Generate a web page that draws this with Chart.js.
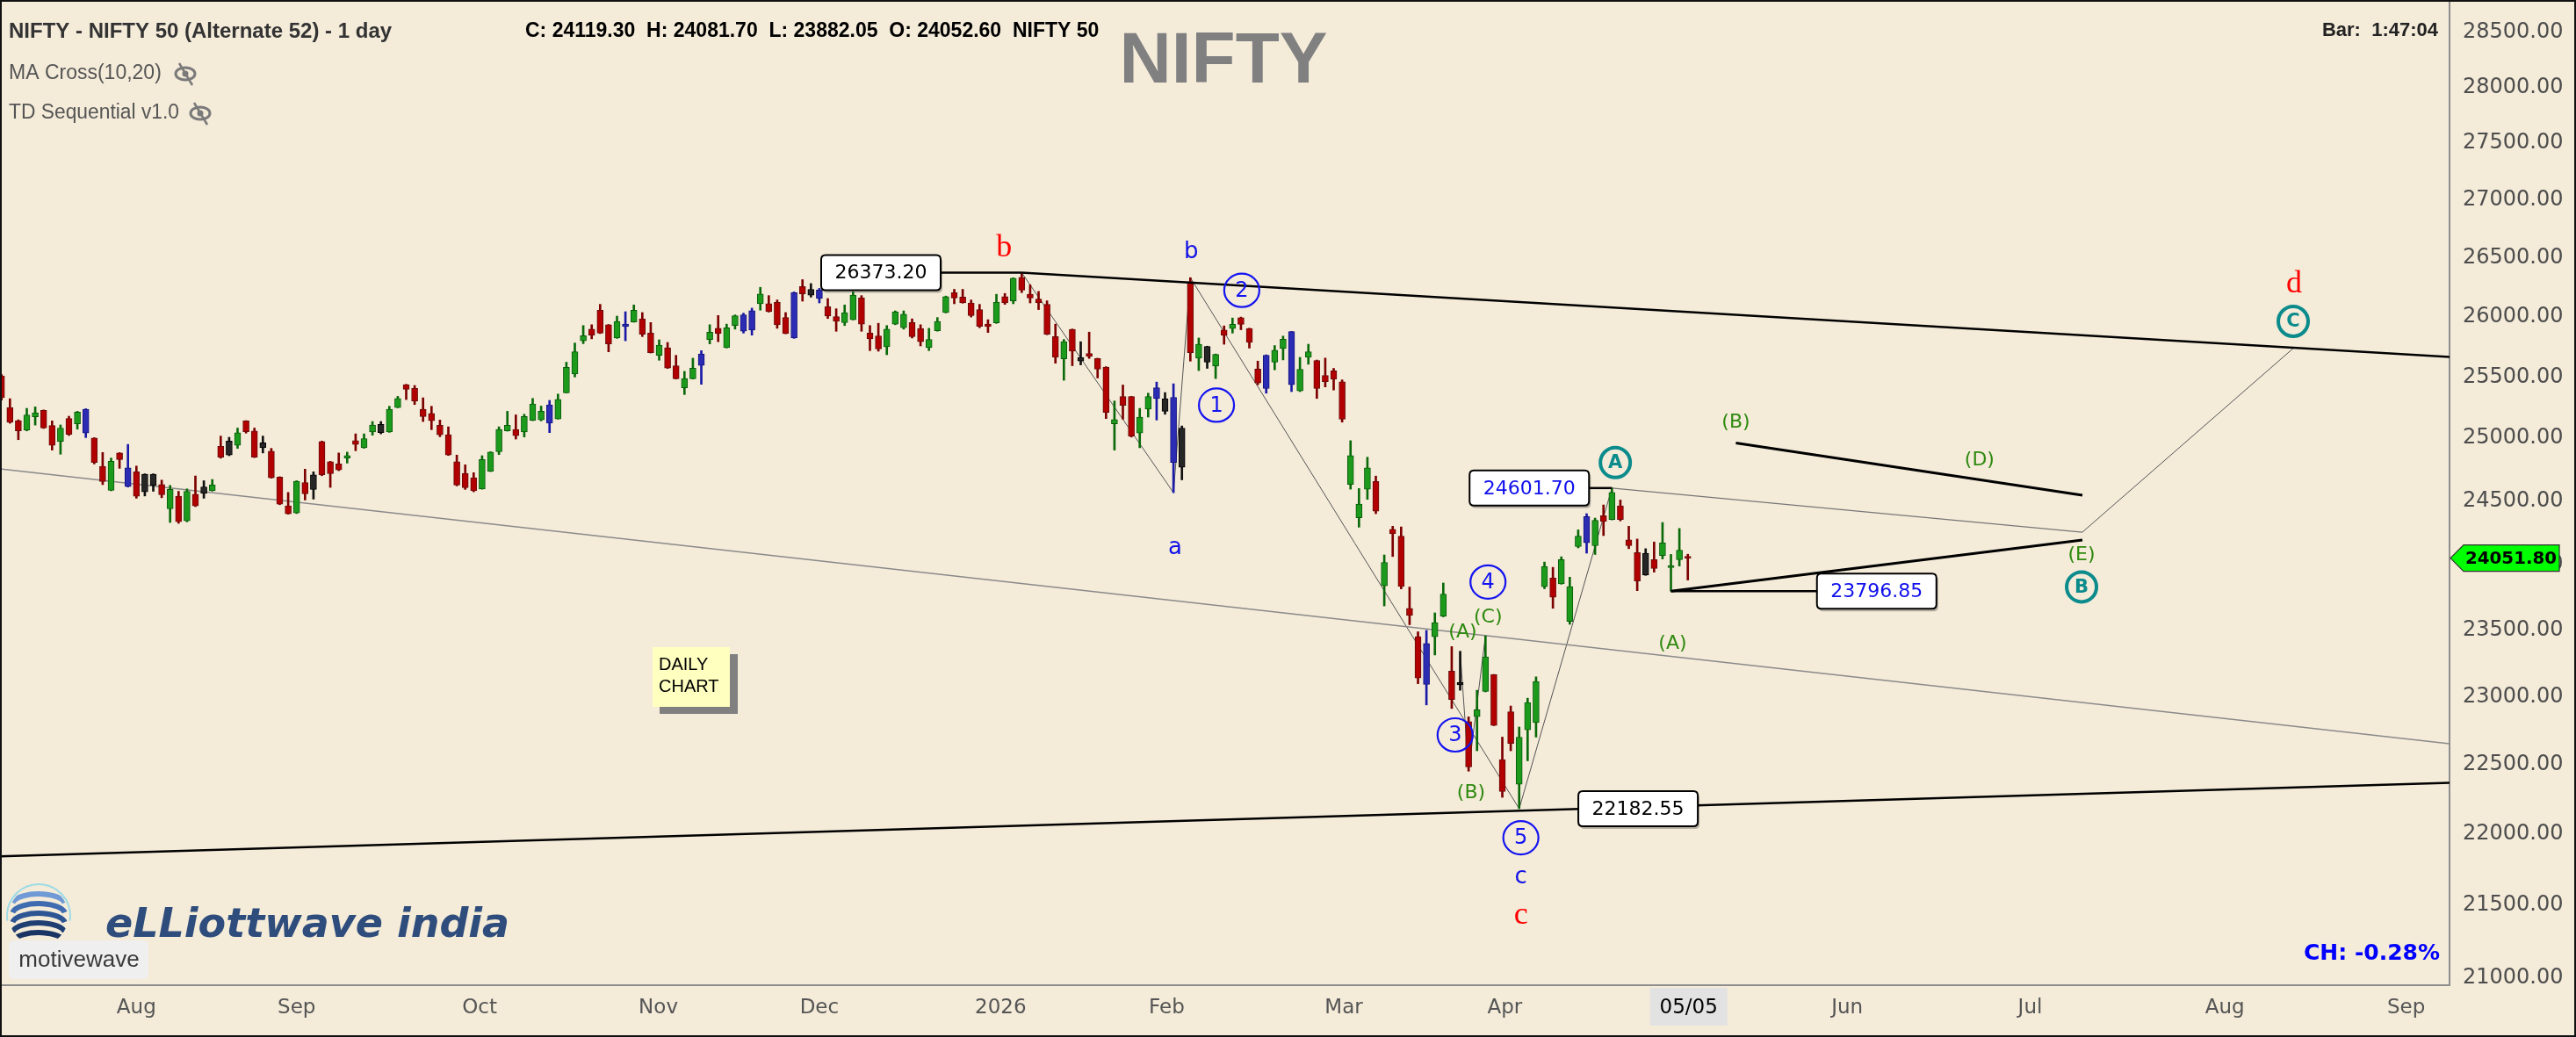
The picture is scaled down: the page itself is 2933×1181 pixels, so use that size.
<!DOCTYPE html>
<html>
<head>
<meta charset="utf-8">
<script src="https://cdn.jsdelivr.net/npm/chart.js@4.4.1/dist/chart.umd.min.js"></script>
<style>
html,body{margin:0;padding:0;background:#f4ebd9;overflow:hidden;}
canvas{display:block;}
</style>
</head>
<body>
<canvas id="chart" width="2933" height="1181"></canvas>
<script>
// ---------------- DATA (daily NIFTY candles, index 0 = first visible bar) ----------------
const opens = [
25509,25250,25143,25065,25174,25226,25103,24975,25160,25117,
25236,25003,24775,24584,24883,24763,24731,24712,24623,24629,
24438,24537,24342,24553,24560,24581,24936,24865,24943,25141,
25060,24964,24896,24689,24461,24405,24646,24591,24975,24811,
24794,24841,24982,24924,25051,25046,25051,25250,25437,25406,
25236,25202,25105,25029,24811,24719,24684,24595,24735,24893,
25060,25072,25051,25145,25150,25122,25157,25370,25524,25800,
25897,26056,25934,25823,25939,25957,25983,25864,25679,25742,
25593,25411,25485,25596,25811,25904,25742,25927,25879,25889,
26110,26110,26122,25994,25823,26256,26232,26226,26085,26001,
25952,25976,26159,25864,25840,25750,25939,25909,25952,25902,
25742,25884,26036,26204,26166,26117,26061,25939,25949,26171,
26135,26333,26190,26149,26105,25835,25650,25895,25662,25694,
25653,25581,25117,25339,25339,25042,25236,25411,25322,25333,
24768,26297,25656,25753,25589,25889,25902,25993,25902,25566,
25405,25623,25735,25876,25385,25662,25636,25512,25550,25461,
24630,24366,24593,24654,23838,24276,24222,23664,23450,23091,
23448,23605,23189,23104,22815,22852,23039,23163,22537,22887,
22358,22754,22808,23831,23897,23853,23565,24141,24170,24148,
24383,24353,24461,24193,24095,23920,24040,24072,23978,24040,
24052.6];
const highs = [
25520,25322,25150,25243,25255,25230,25141,25108,25179,25219,
25240,25005,24886,24841,24885,24951,24777,24715,24715,24665,
24623,24576,24595,24698,24660,24670,25018,25008,25083,25143,
25083,25018,24919,24692,24567,24660,24752,24731,24978,24815,
24882,24889,25036,25036,25136,25136,25260,25341,25440,25430,
25329,25260,25148,25093,24865,24787,24724,24860,24892,25093,
25219,25190,25195,25324,25262,25308,25360,25622,25781,25927,
25934,26105,25936,26006,26043,26100,26036,25952,25808,25786,
25679,25546,25655,25718,25934,26011,25939,26016,26031,26073,
26249,26179,26142,26036,26210,26314,26281,26240,26154,26068,
26100,26209,26179,25927,25946,25927,26050,26050,25983,25934,
25904,25994,26175,26232,26232,26142,26105,25976,26190,26197,
26330,26373.2,26271,26214,26135,25939,25811,25898,25792,25872,
25655,25585,25303,25434,25341,25243,25367,25458,25372,25444,
25100,26331,25823,25755,25690,25924,25990,25998,25905,25631,
25683,25760,25839,25878,25662,25771,25640,25656,25571,25476,
24981,24598,24848,24697,24076,24300,24295,23828,23486,23497,
23630,23859,23374,23339,22850,23047,23456,23165,22701,22930,
22775,22988,23147,24021,23980,24062,23904,24272,24399,24364,
24468,24601.7,24507,24300,24200,24125,24177,24330,24080,24283,
24081.7];
const lows = [
25310,25122,24989,25060,25107,25080,24905,24872,25023,25074,
25006,24794,24629,24580,24759,24610,24521,24539,24576,24525,
24330,24323,24335,24455,24521,24578,24840,24860,24919,25042,
24845,24882,24680,24470,24395,24400,24507,24514,24700,24607,
24740,24801,24900,24920,25025,25036,25048,25248,25315,25274,
25136,25070,25013,24862,24619,24591,24572,24593,24733,24869,
25058,24994,25011,25143,25141,25046,25155,25368,25500,25776,
25816,25860,25708,25820,25800,25955,25835,25698,25638,25570,
25483,25356,25483,25440,25774,25792,25740,25897,25864,25847,
26056,26040,25904,25858,25820,26132,26166,26117,25986,25879,
25927,25974,25879,25718,25713,25684,25934,25897,25823,25757,
25718,25880,26033,26110,26115,25998,25909,25869,25945,26105,
26110,26204,26117,26061,25850,25614,25473,25593,25600,25653,
25492,25160,24905,25155,25010,24924,25172,25148,25195,24565,
24667,25631,25553,25571,25487,25771,25864,25892,25739,25436,
25367,25559,25641,25380,25380,25605,25324,25418,25393,25131,
24593,24293,24512,24399,23683,24064,23814,23540,23096,22938,
23311,23600,22912,23047,22453,22601,23035,22785,22264,22601,
22182.55,22528,22701,23815,23665,23850,23543,24131,24090,24080,
24227,24350,24342,24125,23800,23918,23943,24045,23796.85,23990,
23882.05];
const closes = [
25330,25129,25060,25190,25207,25083,24943,25083,25032,25212,
25042,24806,24653,24815,24829,24614,24537,24572,24712,24548,
24591,24335,24576,24461,24611,24626,24848,24978,25045,25053,
24848,24924,24684,24475,24398,24656,24555,24707,24707,24717,
24747,24862,24951,24998,25108,25112,25236,25324,25399,25303,
25177,25143,25029,24865,24626,24605,24581,24829,24889,25072,
25105,25022,25177,25279,25219,25272,25317,25579,25708,25842,
25846,25864,25774,25962,25919,26056,25854,25700,25764,25573,
25485,25487,25573,25690,25872,25860,25909,26009,26016,26051,
26192,26043,25934,25860,26204,26194,26183,26154,26006,25962,
26036,26183,25939,25815,25732,25897,26043,26023,25835,25792,
25811,25962,26171,26159,26117,26011,25920,25919,26124,26117,
26326,26226,26159,26117,25854,25662,25792,25713,25631,25670,
25564,25210,25152,25267,25018,25172,25339,25322,25219,24806,
25083,25700,25771,25623,25687,25845,25937,25937,25786,25451,
25680,25721,25813,25436,25564,25708,25405,25461,25482,25155,
24862,24474,24762,24419,24018,24241,23833,23611,23139,23397,
23556,23773,22978,23087,22484,22902,23297,22787,22305,22655,
22701,22956,23113,23987,23750,24040,23831,24222,24376,24346,
24337,24567,24353,24148,23875,24090,23972,24170,23990,24113,
24051.8];
// bars painted blue / black by the TD Sequential study
const blueBars  = [10,15,65,74,83,88,89,94,97,137,139,150,153,169,188];
const blackBars = [17,18,24,27,31,37,45,96,128,138,140,143,173,195];

// x axis (bar index) tick positions and labels
const monthTickPos    = [16,35,56.7,77.9,97,118.5,138.2,159.2,178.3,200.1,218.9,240.6,263.7,285.2];
const monthTickLabels = ['Aug','Sep','Oct','Nov','Dec','2026','Feb','Mar','Apr','05/05','Jun','Jul','Aug','Sep'];
const highlightTick = 9;
// y axis (log) tick values
const priceTicks = [21000,21500,22000,22500,23000,23500,24000,24500,25000,25500,26000,26500,27000,27500,28000,28500];
const xRange = [-0.177, 290.34];
const yRange = [20953.6, 28800.5];
const lastPrice = 24051.80;

// drawn trend lines, points as [bar index, price]
const upperTrend   = [[121,26373.2],[290.34,25665]];
const lowerTrend   = [[-0.177,21844],[290.34,22368]];
const channelLine  = [[-0.177,24754],[290.34,22652]];
const trianglLow   = [[198,23796.85],[246.8,24192]];
const trianglHigh  = [[205.7,24963],[246.8,24545]];
const projA_E      = [[191,24601.7],[246.8,24254]];
const projE_C      = [[246.8,24254],[271.8,25737]];
const wavePath     = [[121,26373.2],[139,24565],[141,26331],[180,22182.55],[191,24601.7]];
const wave4Zigzag  = [[173,23339],[174,22453],[176,23456]];
const pointer1     = [[110.9,26373.2],[121,26373.2]];
const pointer2     = [[188.1,24601.7],[191,24601.7]];
const pointer3     = [[198,23796.85],[215.4,23796.85]];

// wave labels [text, bar index, price]
const redLetters   = [['b',118.9,26587],['c',180.2,21429],['d',271.9,26280]];
const blueLetters  = [['a',139.2,24127],['b',141.1,26548],['c',180.2,21698]];
const blueCircled  = [['1',144.1,25269],['2',147.1,26223],['3',172.4,22717],['4',176.3,23867],['5',180.2,21975]];
const tealCircled  = [['A',191.4,24805],['B',246.7,23829],['C',271.8,25962]];
const greenLabels  = [['(A)',173.3,23481],['(B)',174.3,22292],['(C)',176.3,23596],['(A)',198.2,23398],['(B)',205.7,25124],['(D)',234.6,24824],['(E)',246.7,24071]];
const priceBoxesBlack = [['26373.20',104.3,26373.2],['22182.55',194.1,22182.55]];
const priceBoxesBlue  = [['24601.70',181.2,24601.7],['23796.85',222.4,23796.85]];

// ---------------- STYLE ----------------
const BG = '#f4ebd9';
const bodyFill = {up:'#1c9a1c', down:'#b20000', blue:'#2b2bb4', black:'#262626'};
const bodyEdge = {up:'#0a5c0a', down:'#6a0c0c', blue:'#14147e', black:'#000000'};
const wickCol  = {up:'#0a6a0a', down:'#7c0000', blue:'#1a1aa8', black:'#111111'};
function kind(i){
  if (blueBars.includes(i)) return 'blue';
  if (blackBars.includes(i)) return 'black';
  return closes[i] >= opens[i] ? 'up' : 'down';
}
const idx = opens.map((_, i) => i);
const wickData = idx.map(i => ({x: i, y: [lows[i], highs[i]]}));
const bodyData = idx.map(i => ({x: i, y: [Math.min(opens[i], closes[i]), Math.max(opens[i], closes[i])]}));
const toXY = pts => pts.map(p => ({x: p[0], y: p[1]}));
function lineDs(pts, color, width, order){
  return {type:'line', data:toXY(pts), borderColor:color, borderWidth:width, pointRadius:0,
          pointHoverRadius:0, fill:false, tension:0, order:order};
}

Chart.defaults.font.family = 'DejaVu Sans';

function txt(ctx, s, x, y, font, color, align, base, maxW){
  ctx.font = font; ctx.fillStyle = color;
  ctx.textAlign = align || 'center'; ctx.textBaseline = base || 'middle';
  if (maxW) ctx.fillText(s, x, y, maxW); else ctx.fillText(s, x, y);
}
function roundRect(ctx, x, y, w, h, r){
  ctx.beginPath();
  ctx.moveTo(x + r, y); ctx.lineTo(x + w - r, y); ctx.quadraticCurveTo(x + w, y, x + w, y + r);
  ctx.lineTo(x + w, y + h - r); ctx.quadraticCurveTo(x + w, y + h, x + w - r, y + h);
  ctx.lineTo(x + r, y + h); ctx.quadraticCurveTo(x, y + h, x, y + h - r);
  ctx.lineTo(x, y + r); ctx.quadraticCurveTo(x, y, x + r, y); ctx.closePath();
}
function eyeSlash(ctx, cx, cy){
  ctx.save();
  ctx.strokeStyle = '#7a7a7a'; ctx.fillStyle = '#7a7a7a'; ctx.lineWidth = 3;
  ctx.beginPath(); ctx.ellipse(cx, cy, 11, 7, 0, 0, Math.PI * 2); ctx.stroke();
  ctx.beginPath(); ctx.arc(cx, cy, 3.5, 0, Math.PI * 2); ctx.fill();
  ctx.lineWidth = 2.5; ctx.beginPath(); ctx.moveTo(cx - 7, cy - 12); ctx.lineTo(cx + 8, cy + 13); ctx.stroke();
  ctx.restore();
}

const decor = {
  id: 'decor',
  beforeDraw(chart){
    const ctx = chart.ctx;
    ctx.save();
    ctx.fillStyle = BG; ctx.fillRect(0, 0, chart.width, chart.height);
    const hx = chart.scales.x.getPixelForValue(monthTickPos[highlightTick]);
    ctx.fillStyle = '#e2e2e2'; ctx.fillRect(hx - 44, 1125, 88, 43);
    ctx.restore();
  },
  afterDatasetsDraw(chart){
    const ctx = chart.ctx, xs = chart.scales.x, ys = chart.scales.y;
    const px = i => xs.getPixelForValue(i), py = v => ys.getPixelForValue(v);
    const a = chart.chartArea;
    ctx.save();
    ctx.beginPath(); ctx.rect(a.left, a.top, a.right - a.left, a.bottom - a.top); ctx.clip();

    redLetters.forEach(([t, i, v]) => txt(ctx, t, px(i), py(v), '36px "Liberation Serif"', '#ff0000'));
    blueLetters.forEach(([t, i, v]) => txt(ctx, t, px(i), py(v), '26px "DejaVu Sans"', '#1212e6'));
    blueCircled.forEach(([t, i, v]) => {
      const x = px(i), y = py(v);
      ctx.strokeStyle = '#1414f0'; ctx.lineWidth = 2.2;
      ctx.beginPath(); ctx.ellipse(x, y, 20, 19, 0, 0, Math.PI * 2); ctx.stroke();
      txt(ctx, t, x, y + 1, '24px "DejaVu Sans"', '#1414f0');
    });
    tealCircled.forEach(([t, i, v]) => {
      const x = px(i), y = py(v);
      ctx.strokeStyle = '#0b8b8b'; ctx.lineWidth = 4;
      ctx.beginPath(); ctx.arc(x, y, 17, 0, Math.PI * 2); ctx.stroke();
      txt(ctx, t, x, y + 1, 'bold 21px "DejaVu Sans"', '#0b8b8b');
    });
    greenLabels.forEach(([t, i, v]) => txt(ctx, t, px(i), py(v), '22px "DejaVu Sans"', '#2f8a10'));

    const box = (t, i, v, color) => {
      const cx = px(i), cy = py(v), w = 136, h = 40;
      ctx.fillStyle = 'rgba(0,0,0,0.25)'; roundRect(ctx, cx - w / 2 + 2, cy - h / 2 + 3, w, h, 5); ctx.fill();
      ctx.fillStyle = '#ffffff'; roundRect(ctx, cx - w / 2, cy - h / 2, w, h, 5); ctx.fill();
      ctx.strokeStyle = '#000'; ctx.lineWidth = 2; ctx.stroke();
      txt(ctx, t, cx, cy + 1, '22px "DejaVu Sans"', color);
    };
    priceBoxesBlack.forEach(([t, i, v]) => box(t, i, v, '#000000'));
    priceBoxesBlue.forEach(([t, i, v]) => box(t, i, v, '#1010ee'));

    // DAILY CHART note
    ctx.fillStyle = '#808080'; ctx.fillRect(751, 745, 89, 68);
    ctx.fillStyle = '#ffffc0'; ctx.fillRect(743, 737, 88, 68);
    txt(ctx, 'DAILY', 750, 757, '20px "Liberation Sans"', '#000', 'left');
    txt(ctx, 'CHART', 750, 782, '20px "Liberation Sans"', '#000', 'left');
    ctx.restore();
  },
  afterDraw(chart){
    const ctx = chart.ctx, ys = chart.scales.y;
    ctx.save();
    // header
    txt(ctx, 'NIFTY', 1393, 94, 'bold 82px "Liberation Sans"', '#808080', 'center', 'alphabetic');
    txt(ctx, 'NIFTY - NIFTY 50 (Alternate 52) - 1 day', 10, 36, 'bold 24px "Liberation Sans"', '#333333', 'left', 'middle', 493);
    txt(ctx, 'C: 24119.30  H: 24081.70  L: 23882.05  O: 24052.60  NIFTY 50', 598, 36, 'bold 23px "Liberation Sans"', '#000000', 'left', 'middle', 747);
    txt(ctx, 'MA Cross(10,20)', 10, 84, '23px "Liberation Sans"', '#555555', 'left', 'middle', 175);
    eyeSlash(ctx, 211, 84);
    txt(ctx, 'TD Sequential v1.0', 10, 129, '23px "Liberation Sans"', '#555555', 'left', 'middle', 194);
    eyeSlash(ctx, 228, 129);
    txt(ctx, 'Bar:  1:47:04', 2776, 35, 'bold 22px "Liberation Sans"', '#222222', 'right');
    txt(ctx, 'CH: -0.28%', 2778, 1086, 'bold 25px "DejaVu Sans"', '#0000ff', 'right');

    // logo
    ctx.save();
    ctx.strokeStyle = '#9ddbe6'; ctx.lineWidth = 2;
    ctx.beginPath(); ctx.arc(44, 1043, 36, Math.PI * 0.95, Math.PI * 2.05); ctx.stroke();
    ctx.beginPath(); ctx.arc(44, 1043, 34, 0, Math.PI * 2); ctx.clip();
    const stripe = ['#6f9ad6', '#3f6cb0', '#2d5594', '#1f3f73', '#1a3563'];
    for (let k = 0; k < 5; k++) {
      ctx.strokeStyle = stripe[k]; ctx.lineWidth = 6;
      ctx.beginPath(); ctx.ellipse(44, 1030 + k * 11, 30, 12, 0, Math.PI * 1.05, Math.PI * 1.95); ctx.stroke();
    }
    ctx.restore();
    txt(ctx, 'eLLiottwave india', 120, 1067, 'bold italic 46px "DejaVu Sans"', '#2e4d7c', 'left', 'alphabetic', 483);
    ctx.fillStyle = '#efefef'; roundRect(ctx, 10, 1071, 159, 44, 6); ctx.fill();
    txt(ctx, 'motivewave', 90, 1094, '26px "Liberation Sans"', '#3a3a3a', 'center', 'middle', 145);

    // last price tag
    const y = ys.getPixelForValue(lastPrice);
    ctx.beginPath();
    ctx.moveTo(2790, y); ctx.lineTo(2805, y - 15); ctx.lineTo(2914, y - 15);
    ctx.lineTo(2914, y + 15); ctx.lineTo(2805, y + 15); ctx.closePath();
    ctx.fillStyle = '#00ff00'; ctx.fill(); ctx.strokeStyle = '#333'; ctx.lineWidth = 1.2; ctx.stroke();
    txt(ctx, lastPrice.toFixed(2), 2859, y + 1, 'bold 20px "DejaVu Sans"', '#000', 'center', 'middle', 104);

    // frame
    ctx.strokeStyle = '#111'; ctx.lineWidth = 2;
    ctx.strokeRect(1, 1, chart.width - 2, chart.height - 2);
    ctx.restore();
  }
};

const datasets = [
  {type:'bar', data:bodyData, grouped:false, barThickness:7, minBarLength:2, borderWidth:1, borderSkipped:false,
   backgroundColor: idx.map(i => bodyFill[kind(i)]), borderColor: idx.map(i => bodyEdge[kind(i)]), order:2},
  {type:'bar', data:wickData, grouped:false, barThickness:2, minBarLength:1, borderWidth:0,
   backgroundColor: idx.map(i => wickCol[kind(i)]), order:3},
  lineDs(channelLine, '#8a8a8a', 1.5, 4),
  lineDs(wavePath, '#555555', 1, 4),
  lineDs(wave4Zigzag, '#555555', 1, 4),
  lineDs(projA_E, '#777777', 1.2, 4),
  lineDs(projE_C, '#555555', 1, 4),
  lineDs(upperTrend, '#000000', 2.5, 1),
  lineDs(lowerTrend, '#000000', 2.5, 1),
  lineDs(trianglLow, '#000000', 3, 1),
  lineDs(trianglHigh, '#000000', 3, 1),
  lineDs(pointer1, '#000000', 2.5, 1),
  lineDs(pointer2, '#000000', 2.5, 1),
  lineDs(pointer3, '#000000', 2.5, 1)
];

new Chart(document.getElementById('chart'), {
  type: 'bar',
  data: {datasets},
  plugins: [decor],
  options: {
    responsive: false, animation: false, devicePixelRatio: 1,
    layout: {padding: 0},
    plugins: {legend: {display: false}, tooltip: {enabled: false}},
    events: [],
    scales: {
      x: {
        type: 'linear', position: 'bottom', min: xRange[0], max: xRange[1], bounds: 'data', offset: false,
        grid: {display: false, drawTicks: false},
        border: {display: true, color: '#8e8e8e', width: 2},
        afterBuildTicks: s => { s.ticks = monthTickPos.map(v => ({value: v})); },
        afterFit: s => { s.height = 59; s.paddingLeft = 0; s.paddingRight = 0; },
        ticks: {
          autoSkip: false, maxRotation: 0, padding: 12,
          font: {family: 'DejaVu Sans', size: 23},
          color: c => (c.index === highlightTick ? '#000000' : '#555555'),
          callback: (v, i) => monthTickLabels[i]
        }
      },
      y: {
        type: 'logarithmic', position: 'right', min: yRange[0], max: yRange[1], bounds: 'data',
        grid: {display: false, drawTicks: false},
        border: {display: true, color: '#8e8e8e', width: 2},
        afterBuildTicks: s => { s.ticks = priceTicks.map(v => ({value: v})); },
        afterFit: s => { s.width = 144; s.paddingTop = 0; s.paddingBottom = 0; },
        ticks: {
          autoSkip: false, padding: 15,
          font: {family: 'DejaVu Sans', size: 24},
          color: '#4d4d4d',
          callback: v => Number(v).toFixed(2)
        }
      }
    }
  }
});
</script>
</body>
</html>
